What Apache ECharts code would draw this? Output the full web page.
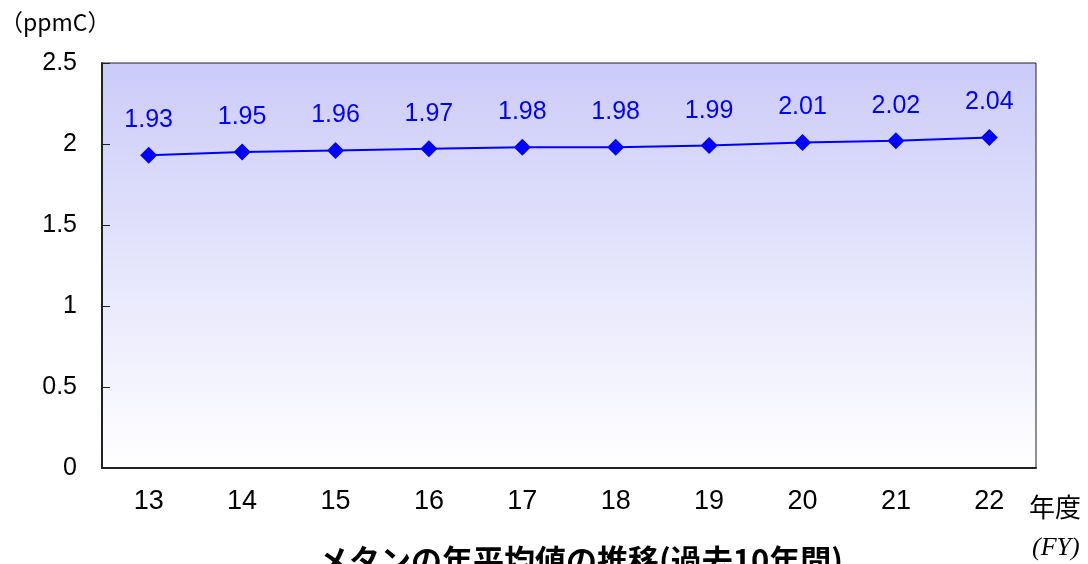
<!DOCTYPE html>
<html><head><meta charset="utf-8">
<script src="https://cdn.jsdelivr.net/npm/echarts@6/dist/echarts.min.js"></script>
<style>html,body{margin:0;padding:0;background:#fff}#c{width:1088px;height:564px}</style>
</head><body><div id="c"></div>
<script>
const categories = ['13','14','15','16','17','18','19','20','21','22'];
const methane = [1.93,1.95,1.96,1.97,1.98,1.98,1.99,2.01,2.02,2.04];
const yTicks = [0,0.5,1,1.5,2,2.5];
const unitLabel = '（ppmC）';
const xName = '年度';
const xNameSub = '(FY)';
const titleText = 'メタンの年平均値の推移(過去10年間)';

const font = '"Liberation Sans", Arial, sans-serif';
const chart = echarts.init(document.getElementById('c'));
chart.setOption({
  animation: false,
  grid: {left: 102, right: 52, top: 63, bottom: 96, show: true,
    borderColor: '#222', borderWidth: 1,
    backgroundColor: {type: 'linear', x: 0, y: 0, x2: 0, y2: 1,
      colorStops: [{offset: 0, color: '#cbcbf9'}, {offset: 1, color: '#ffffff'}]}},
  graphic: [
    {type: 'text', left: 0, top: 11, style: {text: unitLabel, font: '23px "Noto Sans CJK JP", sans-serif', fill: '#000'}},
    {type: 'text', left: 1029, top: 494, style: {text: xName, font: '26px "Noto Sans CJK JP", sans-serif', fill: '#000'}},
    {type: 'text', left: 1032, top: 535, style: {text: xNameSub, font: 'italic 26px "Liberation Serif", serif', fill: '#000'}},
    {type: 'text', left: 318, top: 545, style: {text: titleText, font: 'bold 31px "Noto Sans CJK JP", sans-serif', fill: '#000'}}
  ],
  xAxis: {type: 'category', data: categories, boundaryGap: true,
    axisLine: {lineStyle: {color: '#222', width: 2}},
    axisTick: {inside: true, length: 8, lineStyle: {color: '#666', width: 2}},
    axisLabel: {color: '#000', fontSize: 27, fontFamily: font, margin: 20}},
  yAxis: {type: 'value', min: yTicks[0], max: yTicks[yTicks.length-1], interval: 0.5,
    axisLine: {show: true, lineStyle: {color: '#222', width: 2}},
    axisTick: {show: true, inside: true, length: 8, lineStyle: {color: '#222'}},
    splitLine: {show: false},
    axisLabel: {color: '#000', fontSize: 25, fontFamily: font, margin: 25}},
  series: [{type: 'line', data: methane, symbol: 'diamond', symbolSize: 17,
    lineStyle: {color: '#0000ff', width: 2}, itemStyle: {color: '#0000ff'},
    label: {show: true, position: 'top', distance: 14, color: '#0000ff', fontSize: 25, fontFamily: font,
      formatter: p => p.value.toFixed(2)}}]
});
</script></body></html>
